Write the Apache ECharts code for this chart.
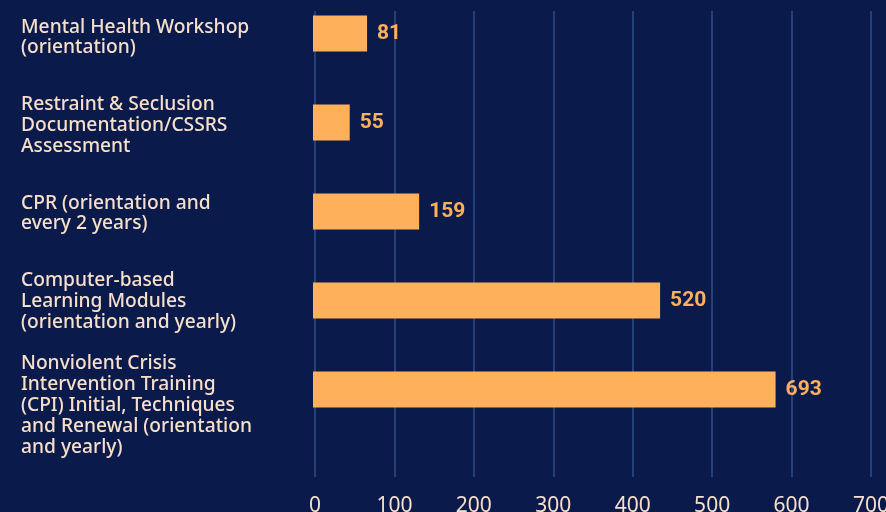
<!DOCTYPE html>
<html>
<head>
<meta charset="utf-8">
<script src="https://cdn.jsdelivr.net/npm/echarts@6/dist/echarts.min.js"></script>
<style>
  html, body { margin: 0; padding: 0; background: #0a1b4b; }
  #chart { width: 886px; height: 512px; }
</style>
</head>
<body>
<div id="chart"></div>
<script>
// training categories, top to bottom
const categories = [
  'Mental Health Workshop\n(orientation)',
  'Restraint & Seclusion\nDocumentation/CSSRS\nAssessment',
  'CPR (orientation and\nevery 2 years)',
  'Computer-based\nLearning Modules\n(orientation and yearly)',
  'Nonviolent Crisis\nIntervention Training\n(CPI) Initial, Techniques\nand Renewal (orientation\nand yearly)'
]
const counts = [81, 55, 159, 520, 693]
const tickLabels = [0, 100, 200, 300, 400, 500, 600, 700]

// spacer heights so the label blocks sit a bit lower, like in the source
const spacer = [8, 6, 4, 2, 32]

const chart = echarts.init(document.getElementById('chart'))

const rich = {}
spacer.forEach((h, i) => {
  rich['s' + i] = { height: h, lineHeight: h, fontSize: 1 }
})

chart.setOption({
  backgroundColor: '#0a1b4b',
  textStyle: { fontFamily: 'Noto Sans' },
  grid: [
    // grid for the printed scale + gridlines
    { left: 315, right: 15, top: 11, bottom: 35, outerBoundsMode: 'none', containLabel: false },
    // grid for the bars (bars are drawn on their own scale in the source)
    { left: 313, width: 534, top: -11, height: 445, outerBoundsMode: 'none', containLabel: false }
  ],
  xAxis: [
    {
      gridIndex: 0,
      type: 'value',
      min: tickLabels[0],
      max: tickLabels[tickLabels.length - 1],
      interval: 100,
      axisLine: { show: false },
      axisTick: { show: false },
      splitLine: { show: true, lineStyle: { color: '#22407c', width: 2 } },
      axisLabel: { color: '#f8dfca', fontSize: 21, margin: 19, hideOverlap: false }
    },
    {
      gridIndex: 1,
      type: 'value',
      min: 0,
      max: 800,
      show: false
    }
  ],
  yAxis: [
    {
      gridIndex: 0,
      type: 'category',
      data: ['a'],
      show: false
    },
    {
      gridIndex: 1,
      type: 'category',
      inverse: true,
      data: categories,
      axisLine: { show: false },
      axisTick: { show: false },
      axisLabel: {
        margin: 292,
        interval: 0,
        showMinLabel: true,
        showMaxLabel: true,
        hideOverlap: false,
        align: 'left',
        color: '#f8dfca',
        fontSize: 19.2,
        lineHeight: 20.9,
        fontWeight: 500,
        fontFamily: 'Noto Sans',
        formatter: (v, i) => '{s' + i + '|\u200b}\n' + v,
        rich: rich
      }
    }
  ],
  series: [
    {
      type: 'bar',
      xAxisIndex: 1,
      yAxisIndex: 1,
      data: counts,
      barWidth: 36,
      itemStyle: { color: '#ffb05a' },
      label: {
        show: true,
        position: 'right',
        distance: 10,
        color: '#ffb05a',
        fontSize: 21,
        fontWeight: 'bold',
        fontFamily: 'Roboto'
      }
    }
  ]
})
</script>
</body>
</html>
